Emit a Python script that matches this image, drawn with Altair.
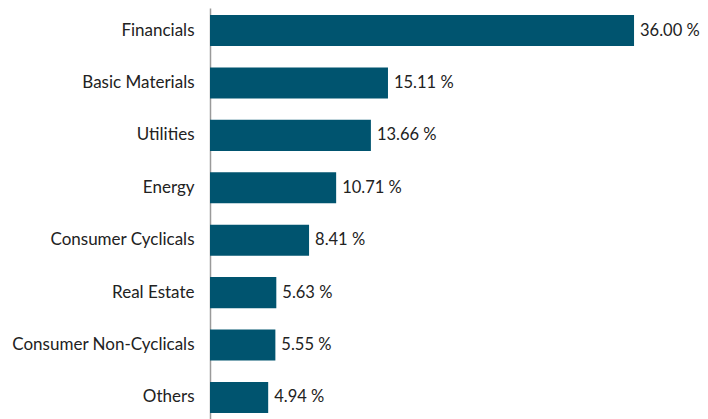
import altair as alt
import pandas as pd

sectors = ["Financials", "Basic Materials", "Utilities", "Energy",
           "Consumer Cyclicals", "Real Estate", "Consumer Non-Cyclicals", "Others"]
weights = [36.00, 15.11, 13.66, 10.71, 8.41, 5.63, 5.55, 4.94]

df = pd.DataFrame({"sector": sectors, "weight": weights})

FONT = "Lato"
BAR = "#00546F"

y = alt.Y("sector:N", sort=sectors, title=None,
          scale=alt.Scale(paddingInner=0.408, paddingOuter=0.134),
          axis=alt.Axis(domain=True, domainColor="#9a9a9a", domainWidth=1.5,
                        ticks=False, labelPadding=16, labelFontSize=17,
                        labelFont=FONT, labelColor="#222222", labelLimit=300))
x = alt.X("weight:Q", title=None, scale=alt.Scale(domain=[0, 41.6], nice=False),
          axis=None)

bars = alt.Chart(df).mark_bar(color=BAR).encode(x=x, y=y)
labels = alt.Chart(df).transform_calculate(
    lab="format(datum.weight, '.2f') + ' %'"
).mark_text(align="left", baseline="middle", dx=6, fontSize=16.5,
            font=FONT, color="#222222").encode(x=x, y=y, text="lab:N")

chart = (bars + labels).properties(
    width=490, height=412,
    autosize=alt.AutoSizeParams(type="none"),
    padding={"left": 202, "top": 0, "right": 0, "bottom": 0},
).configure_view(stroke=None)

chart.save("out.html", embed_options={"renderer": "svg", "actions": False})
